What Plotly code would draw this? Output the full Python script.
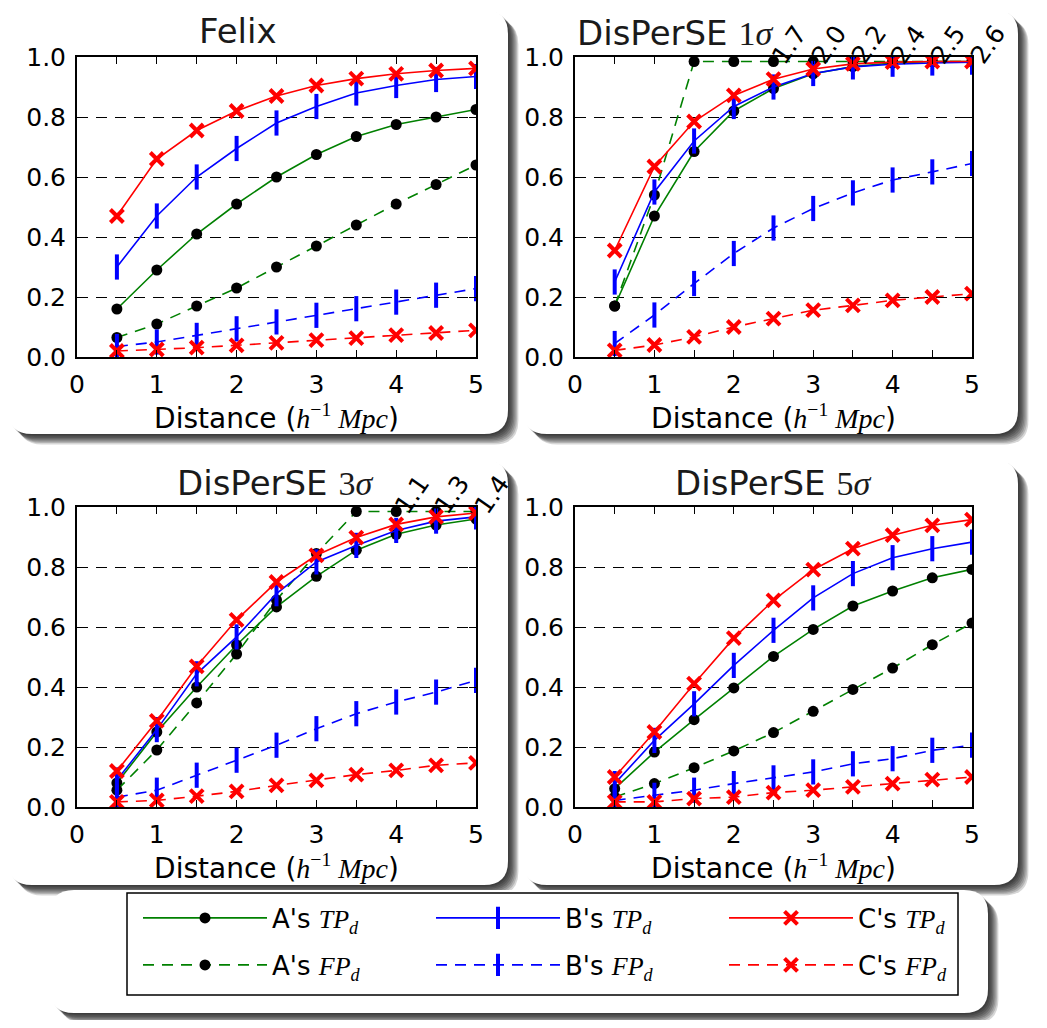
import plotly.graph_objects as go

# target picture geometry (screen pixels) and page offset of the plot div
SCREEN_W, SCREEN_H = 1047, 1028
OFF = 8  # default body margin of the page
W, H = SCREEN_W - 2 * OFF, SCREEN_H - 2 * OFF

distance = [0.5, 1.0, 1.5, 2.0, 2.5, 3.0, 3.5, 4.0, 4.5, 5.0]

panel_titles = [
    "Felix",
    'DisPerSE <span style="font-family:Liberation Serif">1<i>σ</i></span>',
    'DisPerSE <span style="font-family:Liberation Serif">3<i>σ</i></span>',
    'DisPerSE <span style="font-family:Liberation Serif">5<i>σ</i></span>',
]

# Felix
felix_A_TP = [0.16, 0.29, 0.41, 0.51, 0.60, 0.675, 0.735, 0.775, 0.80, 0.825]
felix_A_FP = [0.065, 0.11, 0.17, 0.23, 0.30, 0.37, 0.44, 0.51, 0.575, 0.64]
felix_B_TP = [0.30, 0.47, 0.60, 0.695, 0.78, 0.835, 0.88, 0.905, 0.925, 0.935]
felix_B_FP = [0.035, 0.05, 0.072, 0.094, 0.117, 0.139, 0.161, 0.183, 0.206, 0.228]
felix_C_TP = [0.47, 0.66, 0.755, 0.82, 0.87, 0.905, 0.928, 0.944, 0.955, 0.962]
felix_C_FP = [0.02, 0.025, 0.031, 0.039, 0.047, 0.056, 0.063, 0.073, 0.08, 0.089]

# DisPerSE 1 sigma
s1_A_TP = [0.17, 0.47, 0.685, 0.82, 0.895, 0.944, 0.968, 0.98, 0.985, 0.988]
s1_A_FP = [0.17, 0.54, 1.0, 1.0, 1.7, 2.0, 2.2, 2.4, 2.5, 2.6]
s1_B_TP = [0.25, 0.55, 0.72, 0.835, 0.90, 0.945, 0.967, 0.976, 0.98, 0.983]
s1_B_FP = [0.045, 0.14, 0.245, 0.345, 0.43, 0.495, 0.547, 0.59, 0.617, 0.645]
s1_C_TP = [0.355, 0.635, 0.785, 0.872, 0.926, 0.96, 0.977, 0.983, 0.987, 0.989]
s1_C_FP = [0.022, 0.04, 0.067, 0.10, 0.128, 0.156, 0.172, 0.189, 0.20, 0.211]

# DisPerSE 3 sigma
s3_A_TP = [0.08, 0.25, 0.40, 0.54, 0.667, 0.769, 0.856, 0.909, 0.94, 0.96]
s3_A_FP = [0.056, 0.19, 0.347, 0.51, 0.69, 0.845, 1.0, 1.1, 1.3, 1.4]
s3_B_TP = [0.09, 0.258, 0.444, 0.567, 0.711, 0.817, 0.872, 0.922, 0.953, 0.967]
s3_B_FP = [0.033, 0.056, 0.106, 0.156, 0.206, 0.261, 0.311, 0.35, 0.383, 0.422]
s3_C_TP = [0.12, 0.287, 0.469, 0.624, 0.75, 0.839, 0.898, 0.942, 0.967, 0.98]
s3_C_FP = [0.017, 0.022, 0.036, 0.052, 0.072, 0.089, 0.108, 0.122, 0.139, 0.147]

# DisPerSE 5 sigma
s5_A_TP = [0.061, 0.183, 0.291, 0.397, 0.502, 0.592, 0.67, 0.72, 0.764, 0.792]
s5_A_FP = [0.033, 0.078, 0.131, 0.187, 0.248, 0.319, 0.392, 0.463, 0.541, 0.613]
s5_B_TP = [0.078, 0.222, 0.344, 0.472, 0.589, 0.697, 0.778, 0.831, 0.861, 0.883]
s5_B_FP = [0.022, 0.039, 0.056, 0.078, 0.097, 0.117, 0.144, 0.161, 0.189, 0.206]
s5_C_TP = [0.10, 0.25, 0.411, 0.563, 0.689, 0.791, 0.861, 0.906, 0.939, 0.958]
s5_C_FP = [0.017, 0.017, 0.028, 0.033, 0.048, 0.056, 0.067, 0.078, 0.091, 0.10]

# drawing order per panel: A TP, A FP, B TP, B FP, C TP, C FP
panels = [
    (felix_A_TP, felix_A_FP, felix_B_TP, felix_B_FP, felix_C_TP, felix_C_FP),
    (s1_A_TP, s1_A_FP, s1_B_TP, s1_B_FP, s1_C_TP, s1_C_FP),
    (s3_A_TP, s3_A_FP, s3_B_TP, s3_B_FP, s3_C_TP, s3_C_FP),
    (s5_A_TP, s5_A_FP, s5_B_TP, s5_B_FP, s5_C_TP, s5_C_FP),
]

SERIF = 'font-family:Liberation Serif'
def leg(method, kind):
    return "%s's <span style=\"%s\"><i>%s</i><sub><i>d</i></sub></span>" % (method, SERIF, kind)

legend_names = [leg("A", "TP"), leg("A", "FP"), leg("B", "TP"),
                leg("B", "FP"), leg("C", "TP"), leg("C", "FP")]
legend_ids = ["legend", "legend2", "legend", "legend2", "legend", "legend2"]

CLIP = 0.985

# ---- styles ----
DASH = "11px,8px"
line_colors = ["green", "green", "blue", "blue", "red", "red"]
dashes = ["solid", DASH, "solid", DASH, "solid", DASH]
mk_A = dict(symbol="circle", size=11, color="black", line=dict(width=0))
mk_B = dict(symbol="line-ns", size=18, color="blue", line=dict(width=4, color="blue"))
mk_C = dict(symbol="x-thin", size=13, color="red", line=dict(width=4, color="red"))
markers = [mk_A, mk_A, mk_B, mk_B, mk_C, mk_C]

def px2x(p):
    return (p - OFF) / W

def px2y(p):
    return 1 - (p - OFF) / H

axes_px = [  # x0, x1, ytop, ybottom  (screen pixels)
    (77, 476, 57, 357),
    (575, 972, 57, 357),
    (77, 476, 507, 807),
    (575, 972, 507, 807),
]
title_px = [(238, 31), (675, 33), (275, 483), (773, 483)]

fig = go.Figure()

for p, series in enumerate(panels):
    ax = "" if p == 0 else str(p + 1)
    for k, vals in enumerate(series):
        yv = [min(v, CLIP) for v in vals]
        fig.add_trace(go.Scatter(
            x=distance, y=yv, mode="lines+markers",
            xaxis="x" + ax, yaxis="y" + ax,
            line=dict(color=line_colors[k], width=1.6, dash=dashes[k]),
            marker=markers[k],
            name=legend_names[k], showlegend=(p == 0), legend=legend_ids[k],
            cliponaxis=True,
        ))
    # overflow value labels for A's FP (values above the axis top)
    afp = series[1]
    for xv, v in zip(distance, afp):
        if v > 1.0:
            fig.add_annotation(
                x=(xv + 0.2) / 5.0, y=1.042,
                xref="x%s domain" % ax, yref="y%s domain" % ax,
                text="%.1f" % v, showarrow=False, textangle=-55,
                font=dict(family="DejaVu Sans", size=25, color="black"),
                xanchor="center", yanchor="middle",
            )

tick_font = dict(family="DejaVu Sans", size=25, color="black")
title_font = dict(family="DejaVu Sans", size=28, color="black")
xtitle = ('Distance (<span style="%s"><i>h</i><sup>−1</sup> <i>Mpc</i></span>)' % SERIF)

layout_axes = {}
for p, (x0, x1, yt, yb) in enumerate(axes_px):
    ax = "" if p == 0 else str(p + 1)
    layout_axes["xaxis" + ax] = dict(
        domain=[px2x(x0), px2x(x1)], range=[0, 5], anchor="y" + ax,
        dtick=1, tick0=0, ticks="inside", ticklen=7, tickwidth=1.2, tickcolor="black",
        minor=dict(dtick=0.5, ticks="inside", ticklen=7, tickwidth=1.2, tickcolor="black",
                   showgrid=False),
        showline=True, linecolor="black", linewidth=2, mirror="ticks",
        showgrid=False, zeroline=False, tickfont=tick_font, ticklabelstandoff=4,
        title=dict(text=xtitle, font=title_font, standoff=8),
    )
    layout_axes["yaxis" + ax] = dict(
        domain=[px2y(yb), px2y(yt)], range=[0, 1], anchor="x" + ax,
        dtick=0.2, tick0=0, tickformat=".1f",
        ticks="inside", ticklen=7, tickwidth=1.2, tickcolor="black",
        showline=True, linecolor="black", linewidth=2, mirror="ticks",
        showgrid=True, gridcolor="black", gridwidth=1.2, griddash=DASH,
        zeroline=False, tickfont=tick_font, ticklabelstandoff=4,
    )

for p, (tx, ty) in enumerate(title_px):
    fig.add_annotation(
        x=px2x(tx), y=px2y(ty), xref="paper", yref="paper",
        text=panel_titles[p], showarrow=False,
        font=dict(family="DejaVu Sans", size=34, color="#1a1a1a"),
        xanchor="center", yanchor="middle",
    )

# rounded boxes with drop shadows
def rrect(x0, y0, x1, y1, r):
    X, Y = px2x, px2y
    return (f"M{X(x0 + r)},{Y(y0)} L{X(x1 - r)},{Y(y0)} Q{X(x1)},{Y(y0)} {X(x1)},{Y(y0 + r)} "
            f"L{X(x1)},{Y(y1 - r)} Q{X(x1)},{Y(y1)} {X(x1 - r)},{Y(y1)} "
            f"L{X(x0 + r)},{Y(y1)} Q{X(x0)},{Y(y1)} {X(x0)},{Y(y1 - r)} "
            f"L{X(x0)},{Y(y0 + r)} Q{X(x0)},{Y(y0)} {X(x0 + r)},{Y(y0)} Z")

boxes_px = [(8, 10, 508, 434), (523, 10, 1018, 434), (8, 460, 508, 885),
            (523, 460, 1018, 885), (50, 890, 988, 1013)]
shapes = []
for (x0, y0, x1, y1) in boxes_px:
    for k in range(1, 9):
        o = 1.3 * k
        shapes.append(dict(type="path", xref="paper", yref="paper", layer="below",
                           path=rrect(x0 + o, y0 + o, x1 + o, y1 + o, 24),
                           fillcolor="rgba(0,0,0,0.16)", line=dict(width=0)))
for (x0, y0, x1, y1) in boxes_px:
    shapes.append(dict(type="path", xref="paper", yref="paper", layer="below",
                       path=rrect(x0, y0, x1, y1, 24),
                       fillcolor="white", line=dict(width=0)))
# legend frame
shapes.append(dict(type="rect", xref="paper", yref="paper", layer="below",
                   x0=px2x(127), x1=px2x(958), y0=px2y(995), y1=px2y(893),
                   line=dict(color="black", width=1.5), fillcolor="white"))

legend_common = dict(
    orientation="h", x=px2x(138), xanchor="left", yanchor="middle",
    bgcolor="rgba(0,0,0,0)", borderwidth=0,
    font=dict(family="DejaVu Sans", size=26, color="black"),
    entrywidth=154, itemwidth=124,
)

fig.update_layout(
    width=W, height=H,
    margin=dict(l=0, r=0, t=0, b=0, pad=0, autoexpand=False),
    paper_bgcolor="white", plot_bgcolor="rgba(0,0,0,0)",
    font=dict(family="DejaVu Sans", color="black"),
    shapes=shapes,
    legend=dict(y=px2y(918), **legend_common),
    legend2=dict(y=px2y(965), **legend_common),
    **layout_axes,
)

fig.write_html("out.html")
